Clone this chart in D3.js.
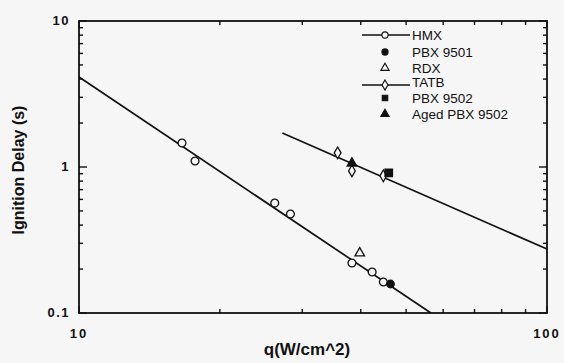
<!DOCTYPE html>
<html>
<head>
<meta charset="utf-8">
<script src="https://cdn.jsdelivr.net/npm/d3@7"></script>
<style>
  html, body { margin: 0; padding: 0; background: #f6f6f6; }
  svg { display: block; font-family: "Liberation Sans", Arial, sans-serif; }
</style>
</head>
<body>
<div id="chart"></div>
<script>
// data
const hmxQ = [16.6, 17.7, 26.2, 28.3, 38.3, 42.3, 44.7];
const hmxDelay = [1.46, 1.10, 0.566, 0.477, 0.22, 0.191, 0.163];
const pbx9501Q = [46.3];
const pbx9501Delay = [0.158];
const rdxQ = [39.8];
const rdxDelay = [0.257];
const tatbQ = [35.7, 38.3, 44.7];
const tatbDelay = [1.25, 0.94, 0.87];
const pbx9502Q = [45.9];
const pbx9502Delay = [0.91];
const agedQ = [38.3];
const agedDelay = [1.06];
// fitted lines (end points)
const hmxFitQ = [10, 56.5];
const hmxFitDelay = [4.13, 0.1];
const tatbFitQ = [27.2, 100];
const tatbFitDelay = [1.71, 0.274];

const legendNames = ["HMX", "PBX 9501", "RDX", "TATB", "PBX 9502", "Aged PBX 9502"];
const xTickLabels = ["10", "100"];
const yTickLabels = ["0.1", "1", "10"];

const width = 564, height = 363;
const margin = {top: 21, right: 17, bottom: 50, left: 79};

const svg = d3.select("#chart").append("svg")
  .attr("width", width).attr("height", height);

const x = d3.scaleLog().domain([10, 100]).range([margin.left, width - margin.right]);
const y = d3.scaleLog().domain([0.1, 10]).range([height - margin.bottom, margin.top]);

const x0 = x.range()[0], x1 = x.range()[1];
const y0 = y.range()[0], y1 = y.range()[1];

// ticks, drawn inward on all four sides
const xt = [];
for (let v = 10; v <= 100; v += 10) xt.push(v);
const yt = [];
[0.1, 1].forEach(d => { for (let k = 1; k < 10; k++) yt.push(d * k); });
yt.push(10);

const tickG = svg.append("g").attr("stroke", "#111").attr("stroke-width", 1.4);
xt.forEach(v => {
  const major = v === 10 || v === 100;
  const len = major ? 7 : 4;
  tickG.append("line").attr("x1", x(v)).attr("x2", x(v)).attr("y1", y0).attr("y2", y0 - len);
  tickG.append("line").attr("x1", x(v)).attr("x2", x(v)).attr("y1", y1).attr("y2", y1 + len);
});
yt.forEach(v => {
  const major = Math.abs(Math.log10(v) - Math.round(Math.log10(v))) < 1e-9;
  const len = major ? 8 : 4;
  tickG.append("line").attr("x1", x0).attr("x2", x0 + len).attr("y1", y(v)).attr("y2", y(v));
  tickG.append("line").attr("x1", x1).attr("x2", x1 - len).attr("y1", y(v)).attr("y2", y(v));
});

// frame
svg.append("rect")
  .attr("x", x0).attr("y", y1)
  .attr("width", x1 - x0).attr("height", y0 - y1)
  .attr("fill", "none").attr("stroke", "#111").attr("stroke-width", 1.8);

// tick labels
svg.append("g").selectAll("text").data(xTickLabels).join("text")
  .attr("x", d => x(+d)).attr("y", y0 + 25)
  .attr("text-anchor", "middle")
  .attr("font-size", 13).attr("font-weight", "bold").attr("letter-spacing", 2)
  .attr("fill", "#111")
  .text(d => d);

svg.append("g").selectAll("text").data(yTickLabels).join("text")
  .attr("x", x0 - 9).attr("y", d => y(+d) + 4)
  .attr("text-anchor", "end")
  .attr("font-size", 13).attr("font-weight", "bold").attr("letter-spacing", 1.5)
  .attr("fill", "#111")
  .text(d => d);

// axis titles
svg.append("text")
  .attr("x", 307).attr("y", 355)
  .attr("text-anchor", "middle")
  .attr("font-size", 17).attr("font-weight", "bold").attr("fill", "#111")
  .text("q(W/cm^2)");

svg.append("text")
  .attr("transform", `translate(24,${(y0 + y1) / 2 + 3}) rotate(-90)`)
  .attr("text-anchor", "middle")
  .attr("font-size", 16).attr("font-weight", "bold").attr("fill", "#111")
  .text("Ignition Delay (s)");

// fitted lines
const line = d3.line().x(d => x(d[0])).y(d => y(d[1]));
svg.append("path")
  .attr("d", line(d3.zip(hmxFitQ, hmxFitDelay)))
  .attr("fill", "none").attr("stroke", "#111").attr("stroke-width", 1.7);
svg.append("path")
  .attr("d", line(d3.zip(tatbFitQ, tatbFitDelay)))
  .attr("fill", "none").attr("stroke", "#111").attr("stroke-width", 1.7);

// markers
const symTypes = {
  circle: d3.symbolCircle,
  fcircle: d3.symbolCircle,
  triangle: d3.symbolTriangle,
  diamond: d3.symbolDiamond,
  square: d3.symbolSquare
};
const symSize = {circle: 48, fcircle: 44, triangle: 40, diamond: 40, square: 56};
const series = [
  {q: hmxQ, d: hmxDelay, s: "circle", fill: false},
  {q: tatbQ, d: tatbDelay, s: "diamond", fill: false},
  {q: rdxQ, d: rdxDelay, s: "triangle", fill: false},
  {q: pbx9501Q, d: pbx9501Delay, s: "fcircle", fill: true},
  {q: pbx9502Q, d: pbx9502Delay, s: "square", fill: true},
  {q: agedQ, d: agedDelay, s: "triangle", fill: true}
];
series.forEach(ser => {
  svg.append("g").selectAll("path").data(d3.zip(ser.q, ser.d)).join("path")
    .attr("transform", d => `translate(${x(d[0])},${y(d[1])})`)
    .attr("d", d3.symbol().type(symTypes[ser.s]).size(symSize[ser.s])())
    .attr("fill", ser.fill ? "#111" : "#f6f6f6")
    .attr("stroke", "#111").attr("stroke-width", 1.3);
});

// legend
const legendRows = [
  {s: "circle", fill: false, line: true, y: 35, ty: 35},
  {s: "fcircle", fill: true, line: false, y: 52, ty: 52},
  {s: "triangle", fill: false, line: false, y: 68, ty: 68},
  {s: "diamond", fill: false, line: true, y: 85, ty: 82},
  {s: "square", fill: true, line: false, y: 98, ty: 98},
  {s: "triangle", fill: true, line: false, y: 114, ty: 114}
];
const leg = svg.append("g");
legendRows.forEach((r, i) => {
  if (r.line) {
    leg.append("line").attr("x1", 362).attr("x2", 410).attr("y1", r.y).attr("y2", r.y)
      .attr("stroke", "#111").attr("stroke-width", 1.3);
  }
  leg.append("path")
    .attr("transform", `translate(385,${r.y})`)
    .attr("d", d3.symbol().type(symTypes[r.s]).size(30)())
    .attr("fill", r.fill ? "#111" : "#f6f6f6")
    .attr("stroke", "#111").attr("stroke-width", 1.1);
  leg.append("text")
    .attr("x", 412).attr("y", r.ty + 5)
    .attr("font-size", 13.5).attr("fill", "#111")
    .text(legendNames[i]);
});
</script>
</body>
</html>
